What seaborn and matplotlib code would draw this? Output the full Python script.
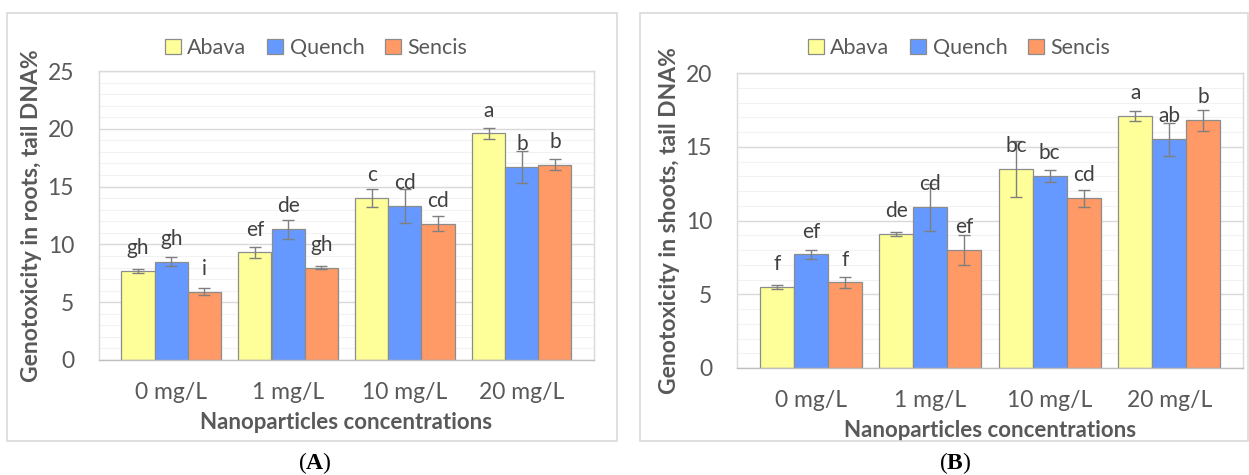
import numpy as np
import pandas as pd
import seaborn as sns
import matplotlib
matplotlib.use("Agg")
import matplotlib.pyplot as plt
from matplotlib.patches import Rectangle, Patch
from matplotlib.ticker import MultipleLocator

# ---------------- data ----------------
categories = ["0 mg/L", "1 mg/L", "10 mg/L", "20 mg/L"]
cultivars = ["Abava", "Quench", "Sencis"]

roots_abava = [7.7, 9.3, 14.0, 19.6]
roots_quench = [8.5, 11.3, 13.3, 16.7]
roots_sencis = [5.9, 8.0, 11.8, 16.9]
roots_err_abava = [0.2, 0.5, 0.75, 0.45]
roots_err_quench = [0.4, 0.85, 1.45, 1.35]
roots_err_sencis = [0.3, 0.1, 0.65, 0.45]
roots_letters_abava = ["gh", "ef", "c", "a"]
roots_letters_quench = ["gh", "de", "cd", "b"]
roots_letters_sencis = ["i", "gh", "cd", "b"]

shoots_abava = [5.5, 9.1, 13.5, 17.1]
shoots_quench = [7.7, 10.9, 13.0, 15.5]
shoots_sencis = [5.8, 8.0, 11.5, 16.8]
shoots_err_abava = [0.15, 0.15, 1.9, 0.35]
shoots_err_quench = [0.3, 1.6, 0.4, 1.1]
shoots_err_sencis = [0.4, 1.0, 0.6, 0.7]
shoots_letters_abava = ["f", "de", "bc", "a"]
shoots_letters_quench = ["ef", "cd", "bc", "ab"]
shoots_letters_sencis = ["f", "ef", "cd", "b"]

y_ticks_roots = [0, 5, 10, 15, 20, 25]
y_ticks_shoots = [0, 5, 10, 15, 20]

colors = ["#FFFF99", "#6699FF", "#FF9966"]

# ---------------- style ----------------
sns.set_theme(style="white")
plt.rcParams["font.family"] = ["Lato", "DejaVu Sans"]
plt.rcParams["mathtext.fontset"] = "custom"
plt.rcParams["mathtext.rm"] = "Liberation Serif"
plt.rcParams["mathtext.bf"] = "Liberation Serif:bold"
TXT = "#595959"

W, H = 1249, 475
fig = plt.figure(figsize=(W / 100, H / 100), dpi=100)


def px_axes(left, right, top, bottom):
    return fig.add_axes([left / W, 1 - bottom / H, (right - left) / W, (bottom - top) / H])


def panel(ax, vals, errs, letters, yticks, ylabel, legend_cx, box, tag, tag_x):
    df = pd.DataFrame({
        "conc": [c for c in categories for _ in cultivars],
        "cult": [k for _ in categories for k in cultivars],
        "val": [vals[k][i] for i in range(len(categories)) for k in range(3)],
    })
    sns.barplot(data=df, x="conc", y="val", hue="cult", order=categories,
                hue_order=cultivars, palette=colors, errorbar=None,
                width=0.85, edgecolor="#8C8C8C", linewidth=0.9, ax=ax,
                legend=False, saturation=1)
    bar_containers = list(ax.containers)
    for k, cont in enumerate(bar_containers):
        for i, bar in enumerate(cont.patches):
            cx = bar.get_x() + bar.get_width() / 2
            h = bar.get_height()
            ax.errorbar(cx, h, yerr=errs[k][i], color="#7F7F7F", capsize=4,
                        elinewidth=1, capthick=1, zorder=5)
            ax.annotate(letters[k][i], (cx, h), xytext=(0, 16.5),
                        textcoords="offset points", ha="center", va="center",
                        fontsize=15, color="#404040", zorder=6)
    ax.set_ylim(yticks[0], yticks[-1])
    ax.set_yticks(yticks)
    ax.yaxis.set_minor_locator(MultipleLocator(1))
    ax.grid(which="major", axis="y", color="#D9D9D9", linewidth=1, zorder=0)
    ax.grid(which="minor", axis="y", color="#F2F2F2", linewidth=0.8, zorder=0)
    ax.set_axisbelow(True)
    for s in ax.spines.values():
        s.set_color("#D9D9D9")
        s.set_linewidth(1)
    ax.spines["bottom"].set_color("#BFBFBF")
    ax.tick_params(axis="both", which="both", length=0, labelsize=16.5, colors=TXT)
    ax.tick_params(axis="x", pad=16)
    ax.tick_params(axis="y", pad=18)
    ax.set_xlabel("Nanoparticles concentrations", fontsize=16, fontweight="bold",
                  color=TXT, labelpad=6)
    ax.set_ylabel(ylabel, fontsize=16.5, fontweight="bold", color=TXT, labelpad=4)
    handles = [Patch(facecolor=c, edgecolor="#8C8C8C", linewidth=0.9) for c in colors]
    fig.legend(handles, cultivars, loc="center", bbox_to_anchor=(legend_cx / W, 1 - 48 / H),
               ncol=3, frameon=False, fontsize=15.5, labelcolor=TXT, handlelength=0.75,
               handleheight=0.75, handletextpad=0.3, columnspacing=0.95)
    x0, x1, y0, y1 = box
    fig.patches.append(Rectangle((x0 / W, 1 - y1 / H), (x1 - x0) / W, (y1 - y0) / H,
                                 transform=fig.transFigure, fill=False,
                                 edgecolor="#D9D9D9", linewidth=1.2))
    fig.text(tag_x / W, 1 - 463 / H, "($\\mathbf{" + tag + "}$)", ha="center", va="center",
             fontsize=17, family="Liberation Serif", color="black")


axA = px_axes(99, 594, 71, 360)
panel(axA,
      [roots_abava, roots_quench, roots_sencis],
      [roots_err_abava, roots_err_quench, roots_err_sencis],
      [roots_letters_abava, roots_letters_quench, roots_letters_sencis],
      y_ticks_roots, "Genotoxicity in roots, tail DNA%", 316, (7, 617, 13, 441), "A", 315)

axB = px_axes(737, 1243, 73, 368)
panel(axB,
      [shoots_abava, shoots_quench, shoots_sencis],
      [shoots_err_abava, shoots_err_quench, shoots_err_sencis],
      [shoots_letters_abava, shoots_letters_quench, shoots_letters_sencis],
      y_ticks_shoots, "Genotoxicity in shoots, tail DNA%", 959, (640, 1248, 13, 441), "B", 955)

fig.savefig("out.png", dpi=100)
